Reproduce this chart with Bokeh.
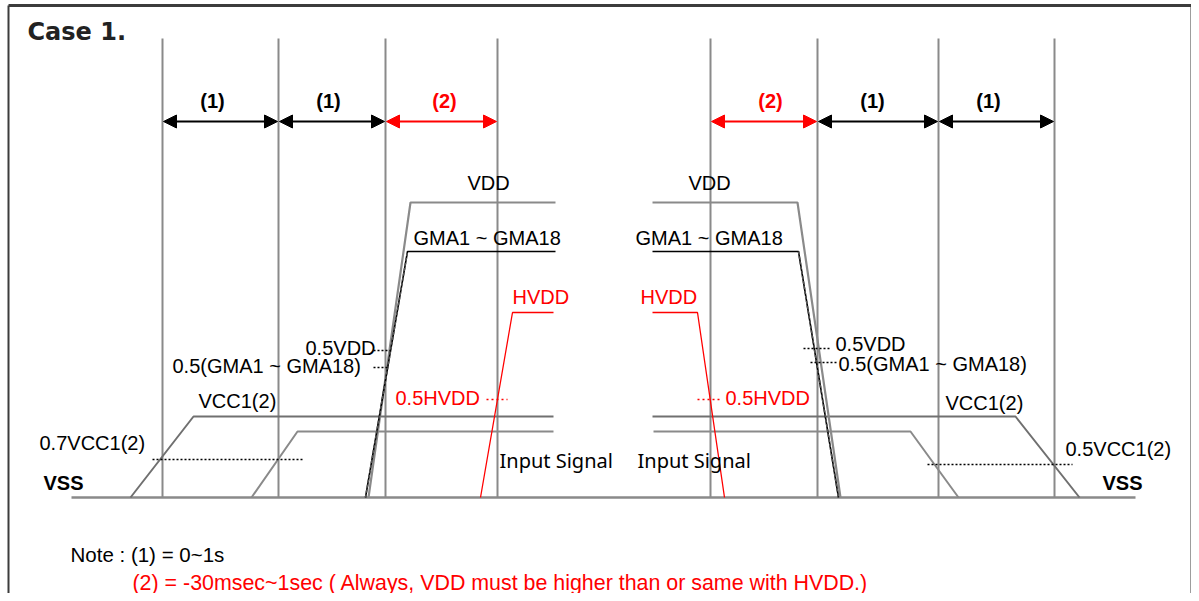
from bokeh.plotting import figure
from bokeh.models import Range1d, Arrow, NormalHead, ColumnDataSource
from bokeh.core.properties import value
from bokeh.embed import file_html
from bokeh.resources import INLINE

# ---------------- data (diagram coordinates, y grows downward) ----------------
vline_x = [162, 278, 385, 497, 710, 817, 938, 1054]
vline_top = 38
vss_level = 497
baseline_x = [71, 1135]

# interval arrows: pairs of vertical-line indices, label, colour, label centre
interval_pairs = [(0, 1), (1, 2), (2, 3), (4, 5), (5, 6), (6, 7)]
interval_labels = ["(1)", "(1)", "(2)", "(2)", "(1)", "(1)"]
interval_colors = ["black", "black", "red", "red", "black", "black"]
interval_label_x = [212, 328, 444, 770, 872, 988]
arrow_y = 121
interval_label_y = 100

# signal levels
vdd_level = 202
gma_level = 251
hvdd_level = 312
vcc1_level = 416
input_level = 431

# power-on (left) signals: x of ramp start, ramp end, flat end
vcc1_on_x = [130, 193, 553]
input_on_x = [251, 297, 553]
vdd_on_x = [368, 410, 555]
gma_on_x = [365, 407, 555]
hvdd_on_x = [480, 512, 553]

# power-off (right) signals: x of flat start, fall start, fall end
vdd_off_x = [652, 797, 840]
gma_off_x = [652, 798, 838]
hvdd_off_x = [652, 697, 724]
vcc1_off_x = [652, 1015, 1079]
input_off_x = [653, 910, 958]

# threshold dotted marks: x0, x1, y
dot_black = [(152, 302, 459), (373, 390, 350), (373, 388, 367),
             (803, 830, 348), (810, 838, 362), (927, 1072, 464)]
dot_red = [(486, 507, 399), (697, 720, 399)]

# labels: x(left), y(centre), text
arial_black_labels = [
    (467, 182, "VDD"), (413, 237, "GMA1 ~ GMA18"), (305, 347, "0.5VDD"),
    (172, 365, "0.5(GMA1 ~ GMA18)"), (198, 400, "VCC1(2)"), (39, 442, "0.7VCC1(2)"),
    (688, 182, "VDD"), (635, 237, "GMA1 ~ GMA18"), (835, 343, "0.5VDD"),
    (838, 363, "0.5(GMA1 ~ GMA18)"), (945, 402, "VCC1(2)"), (1065, 448, "0.5VCC1(2)"),
]
bold_black_labels = [(43, 482, "VSS"), (1102, 482, "VSS")]
arial_red_labels = [
    (512, 296, "HVDD"), (395, 397, "0.5HVDD"),
    (640, 296, "HVDD"), (725, 397, "0.5HVDD"),
]
input_labels = [(499, 460, "Input Signal"), (637, 460, "Input Signal")]
title_text = (27, 31, "Case 1.")
note_black = (70, 554, "Note : (1) = 0~1s")
note_red = (132, 582, "(2) = -30msec~1sec ( Always, VDD must be higher than or same with HVDD.)")

frame_x = [8, 1191]
frame_y = [5, 601]

# ---------------- figure ----------------
W, H = 1191, 593
p = figure(width=W, height=H, x_range=Range1d(0, W), y_range=Range1d(H, 0),
           x_axis_location=None, y_axis_location=None, toolbar_location=None,
           output_backend="svg", min_border=0)
p.grid.visible = False
p.outline_line_color = None
p.background_fill_color = "white"

GRAY = "#8a8a8a"
FRAME = "#3c3c3c"

# frame
p.line([frame_x[0], frame_x[1]], [frame_y[0], frame_y[0]], line_color=FRAME, line_width=3)
p.line([frame_x[0], frame_x[0]], [frame_y[0], frame_y[1]], line_color=FRAME, line_width=2)
p.line([frame_x[1], frame_x[1]], [frame_y[0], frame_y[1]], line_color=FRAME, line_width=2)

# vertical timing lines
p.multi_line(xs=[[x, x] for x in vline_x], ys=[[vline_top, vss_level] for _ in vline_x],
             line_color=GRAY, line_width=2)

# baseline
p.line(baseline_x, [vss_level, vss_level], line_color=GRAY, line_width=2.5)

# power-on signals
p.line(vcc1_on_x, [vss_level, vcc1_level, vcc1_level], line_color="#707070", line_width=2)
p.line(input_on_x, [vss_level, input_level, input_level], line_color="#8a8a8a", line_width=2)
p.line(vdd_on_x, [vss_level, vdd_level, vdd_level], line_color="#8a8a8a", line_width=2.2)
p.line(gma_on_x, [vss_level, gma_level, gma_level], line_color="black", line_width=1.6)
p.line(gma_on_x[:2], [vss_level, gma_level], line_color="#555555", line_width=1.6, line_dash="3 2")
p.line(hvdd_on_x, [vss_level, hvdd_level, hvdd_level], line_color="red", line_width=1.3)

# power-off signals
p.line(vcc1_off_x, [vcc1_level, vcc1_level, vss_level], line_color="#707070", line_width=2)
p.line(input_off_x, [input_level, input_level, vss_level], line_color="#8a8a8a", line_width=2)
p.line(vdd_off_x, [vdd_level, vdd_level, vss_level], line_color="#8a8a8a", line_width=2.2)
p.line(gma_off_x, [gma_level, gma_level, vss_level], line_color="black", line_width=1.6)
p.line(gma_off_x[1:], [gma_level, vss_level], line_color="#555555", line_width=1.6, line_dash="3 2")
p.line(hvdd_off_x, [hvdd_level, hvdd_level, vss_level], line_color="red", line_width=1.3)

# dotted thresholds
p.multi_line(xs=[[a, b] for a, b, _ in dot_black], ys=[[y, y] for _, _, y in dot_black],
             line_color="black", line_width=1.5, line_dash="2 2")
p.multi_line(xs=[[a, b] for a, b, _ in dot_red], ys=[[y, y] for _, _, y in dot_red],
             line_color="red", line_width=1.5, line_dash="2 3")

# interval arrows
for (i, j), col in zip(interval_pairs, interval_colors):
    p.add_layout(Arrow(
        start=NormalHead(size=13, fill_color=col, line_color=col, line_width=1),
        end=NormalHead(size=13, fill_color=col, line_color=col, line_width=1),
        x_start=vline_x[i] + 1, y_start=arrow_y, x_end=vline_x[j] - 1, y_end=arrow_y,
        line_color=col, line_width=2))
src = ColumnDataSource(dict(x=interval_label_x, y=[interval_label_y] * len(interval_label_x),
                            t=interval_labels, c=interval_colors))
p.text(x="x", y="y", text="t", text_color="c", source=src, text_align="center",
       text_baseline="middle", text_font=value("Liberation Sans"), text_font_size="20px",
       text_font_style="bold")


def labels(items, font, size, color, style="normal", align="left"):
    xs, ys, ts = zip(*items)
    p.text(x=list(xs), y=list(ys), text=list(ts), text_color=color, text_align=align,
           text_baseline="middle", text_font=value(font), text_font_size=size,
           text_font_style=style)


labels(arial_black_labels, "Liberation Sans", "20px", "black")
labels(bold_black_labels, "Liberation Sans", "20px", "black", style="bold")
labels(arial_red_labels, "Liberation Sans", "20px", "red")
labels(input_labels, "Noto Sans", "20px", "black")
labels([title_text], "DejaVu Sans", "24px", "#222222", style="bold")
labels([note_black], "Liberation Sans", "20.5px", "black")
labels([note_red], "Liberation Sans", "21.4px", "red")

open("out.html", "w").write(file_html(p, INLINE))
